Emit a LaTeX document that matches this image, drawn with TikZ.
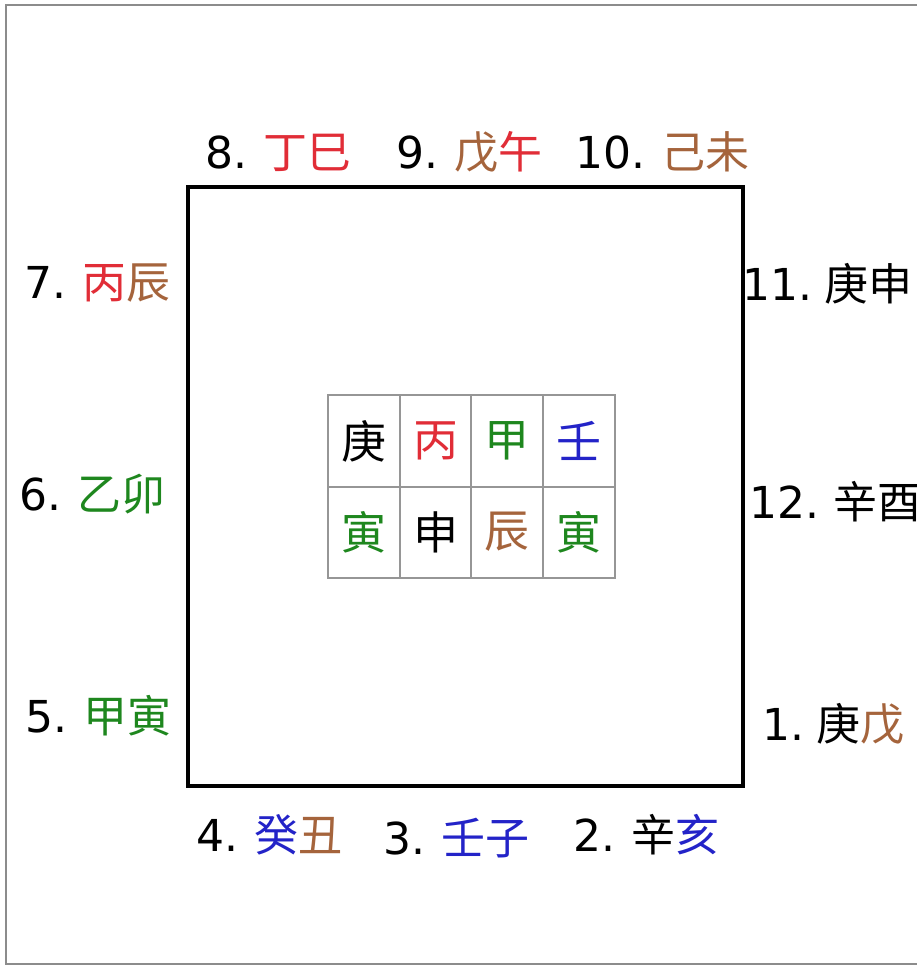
\documentclass[tikz,border=0pt]{standalone}
\usepackage{fontspec}
\setmainfont{DejaVu Sans}
\newfontfamily\cjk{Noto Sans CJK SC}
\definecolor{zred}{RGB}{225,45,55}
\definecolor{zgreen}{RGB}{30,135,30}
\definecolor{zbrown}{RGB}{165,100,60}
\definecolor{zblue}{RGB}{35,35,200}
\definecolor{framegray}{RGB}{140,140,140}
\definecolor{gridgray}{RGB}{150,150,150}
\newcommand\ZR[1]{\textcolor{zred}{\cjk #1}}
\newcommand\ZG[1]{\textcolor{zgreen}{\cjk #1}}
\newcommand\ZN[1]{\textcolor{zbrown}{\cjk #1}}
\newcommand\ZB[1]{\textcolor{zblue}{\cjk #1}}
\newcommand\ZK[1]{{\cjk #1}}
\newcommand\gp{\hspace{16bp}}
\begin{document}
\begin{tikzpicture}[x=1bp,y=-1bp,
  lbl/.style={anchor=base west,inner sep=0pt,font=\fontsize{44bp}{48bp}\selectfont},
  gch/.style={anchor=center,inner sep=0pt,font=\fontsize{45bp}{48bp}\cjk}]
\useasboundingbox (0,0) rectangle (917,969);
\clip (0,0) rectangle (917,969);
\fill[white] (0,0) rectangle (917,969);
% outer frame (right side runs off the picture)
\draw[framegray,line width=2bp] (930,5) -- (6,5) -- (6,964) -- (930,964);
% inner square
\node[draw=black,line width=3.5bp,minimum width=555bp,minimum height=599bp,inner sep=0pt] (sq) at (465.5,486.5) {};
% grid
\draw[gridgray,line width=1.3bp] (328,395) rectangle (615,578);
\draw[gridgray,line width=1.3bp] (400,395) -- (400,578) (471,395) -- (471,578) (543,395) -- (543,578) (328,487) -- (615,487);
\node[gch] (g1) at (364,441) {庚};
\node[gch,text=zred] (g2) at (435.5,441) {丙};
\node[gch,text=zgreen] (g3) at (507,441) {甲};
\node[gch,text=zblue] (g4) at (579,441) {壬};
\node[gch,text=zgreen] (g5) at (364,532) {寅};
\node[gch] (g6) at (435.5,532) {申};
\node[gch,text=zbrown] (g7) at (507,532) {辰};
\node[gch,text=zgreen] (g8) at (579,532) {寅};
% labels
\node[lbl] (l8) at (205,168) {8.\gp\ZR{丁巳}};
\node[lbl] (l9) at (396,168) {9.\gp\ZN{戊}\ZR{午}};
\node[lbl] (l10) at (575,168) {10.\gp\ZN{己未}};
\node[lbl] (l7) at (24,298) {7.\gp\ZR{丙}\ZN{辰}};
\node[lbl] (l6) at (19,510) {6.\gp\ZG{乙卯}};
\node[lbl] (l5) at (25,732) {5.\gp\ZG{甲寅}};
\node[lbl] (l11) at (742,300) {11.\hspace{12bp}\ZK{庚申}};
\node[lbl] (l12) at (749,518) {12.\hspace{14bp}\ZK{辛酉}};
\node[lbl] (l1) at (762,740) {1.\hspace{12bp}\ZK{庚}\ZN{戊}};
\node[lbl] (l4) at (196,851) {4.\gp\ZB{癸}\ZN{丑}};
\node[lbl] (l3) at (383,854) {3.\gp\ZB{壬子}};
\node[lbl] (l2) at (573,851) {2.\gp\ZK{辛}\ZB{亥}};
\end{tikzpicture}
\end{document}
